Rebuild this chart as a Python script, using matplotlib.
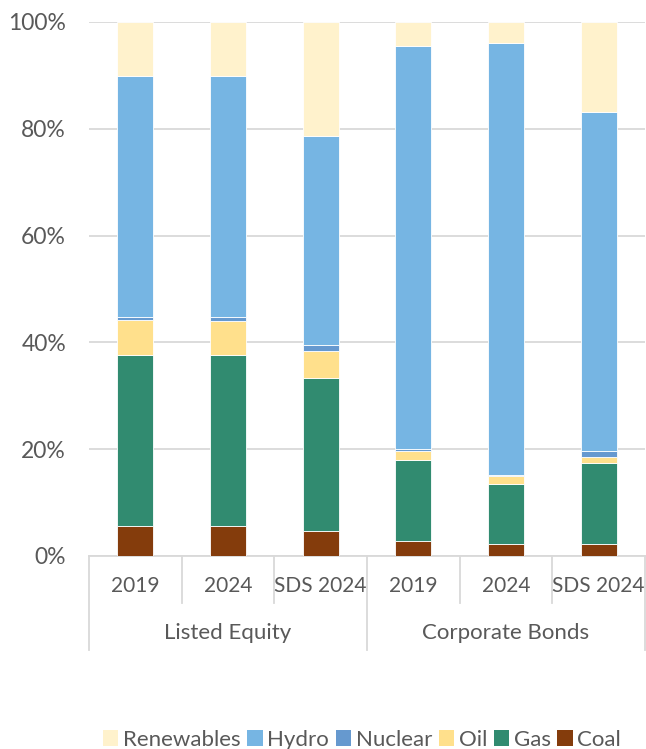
import matplotlib
matplotlib.use("Agg")
import matplotlib.pyplot as plt
from matplotlib.patches import Patch
import numpy as np

categories = ["2019", "2024", "SDS 2024", "2019", "2024", "SDS 2024"]
groups = ["Listed Equity", "Corporate Bonds"]
series_names = ["Coal", "Gas", "Oil", "Nuclear", "Hydro", "Renewables"]
coal = [5.7, 5.7, 4.6, 2.9, 2.2, 2.3]
gas = [32.0, 32.0, 28.7, 15.1, 11.3, 15.1]
oil = [6.5, 6.4, 5.0, 1.75, 1.4, 1.2]
nuclear = [0.65, 0.7, 1.3, 0.35, 0.2, 1.15]
hydro = [45.1, 45.1, 39.1, 75.4, 81.0, 63.35]
renewables = [10.05, 10.1, 21.3, 4.5, 3.9, 16.9]
colors = {"Coal": "#843C0C", "Gas": "#318B70", "Oil": "#FFE08C",
          "Nuclear": "#6699CF", "Hydro": "#76B5E3", "Renewables": "#FFF2CC"}
yticks = [0, 20, 40, 60, 80, 100]

plt.rcParams['font.family'] = ['Lato', 'DejaVu Sans']
txt = "#595959"
grid = "#D9D9D9"
fs = 16

fig = plt.figure(figsize=(6.46, 7.49), dpi=100)
ax = fig.add_axes([89/646, 1-556/749, (645-89)/646, (556-22)/749])

data = [coal, gas, oil, nuclear, hydro, renewables]
x = np.arange(len(categories))
bottom = np.zeros(len(categories))
for name, vals in zip(series_names, data):
    v = np.array(vals)
    ax.bar(x, v, bottom=bottom, width=0.39, color=colors[name],
           edgecolor="white", linewidth=0.6, zorder=3)
    bottom += v

ax.set_xlim(-0.5, 5.5)
ax.set_ylim(0, 100)
ax.set_yticks(yticks)
ax.set_yticklabels([f"{t}%" for t in yticks], color=txt, fontsize=16.5)
ax.tick_params(axis="y", length=0, pad=16.5)
ax.set_xticks([])
ax.yaxis.grid(True, color=grid, linewidth=1.3, zorder=0)
for s in ["top", "right", "left"]:
    ax.spines[s].set_visible(False)
ax.spines["bottom"].set_color(grid)
ax.spines["bottom"].set_linewidth(1.3)

trans = ax.get_xaxis_transform()
short = (556-603)/534
long_ = (556-650)/534
for xs in [0.5, 1.5, 3.5, 4.5]:
    ax.plot([xs, xs], [0, short], transform=trans, color=grid, lw=1.3, clip_on=False)
for xs in [-0.5, 2.5, 5.5]:
    ax.plot([xs, xs], [0, long_], transform=trans, color=grid, lw=1.3, clip_on=False)
for i, c in enumerate(categories):
    ax.text(i, (556-586)/534, c, transform=trans, ha="center", va="center",
            color=txt, fontsize=15)
for g, gi in zip(groups, [1, 4]):
    ax.text(gi, (556-633)/534, g, transform=trans, ha="center", va="center",
            color=txt, fontsize=fs)

order = ["Renewables", "Hydro", "Nuclear", "Oil", "Gas", "Coal"]
handles = [Patch(facecolor=colors[n], edgecolor="none", label=n) for n in order]
fig.legend(handles=handles, loc="center", bbox_to_anchor=(362/646, 1-740/749),
           ncol=6, frameon=False, fontsize=fs, handlelength=0.7, handleheight=0.7,
           handletextpad=0.2, columnspacing=0.3, labelcolor=txt)

fig.savefig("out.png", dpi=100)
